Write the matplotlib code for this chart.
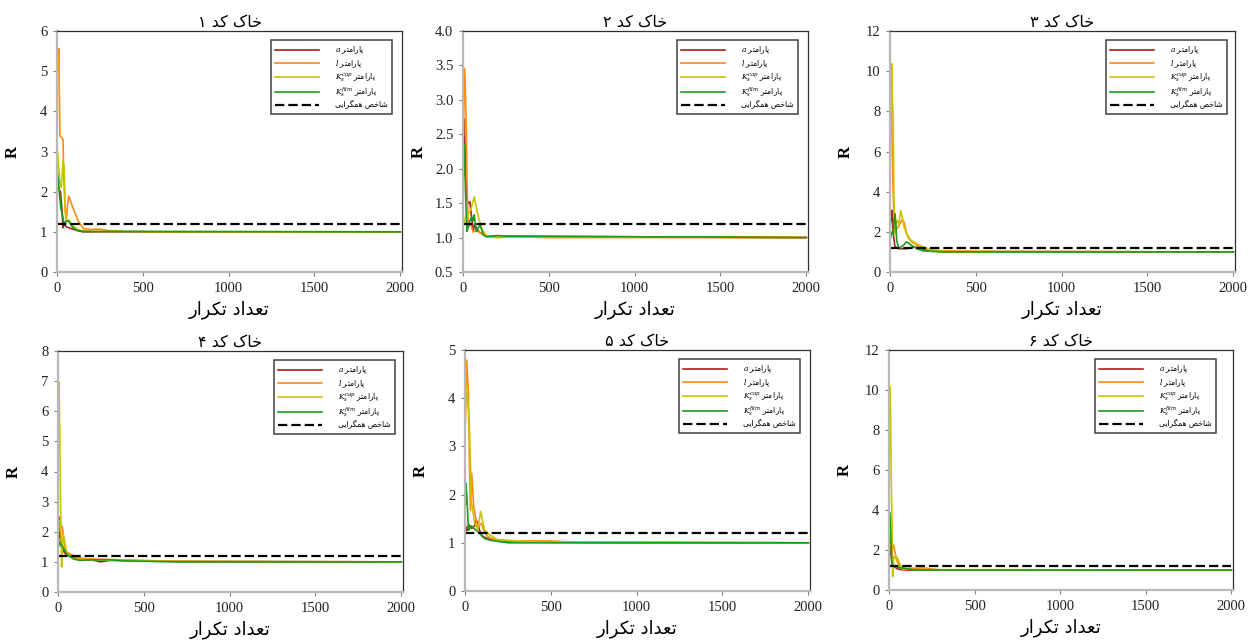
import matplotlib
matplotlib.use("Agg")
import matplotlib.pyplot as plt
from matplotlib.ticker import MultipleLocator, FormatStrFormatter

# iterations / R values (one list per series)
s1_a_x = [5, 12, 20, 30, 35, 42, 55, 70, 90, 120, 150, 250, 2000]
s1_a_y = [2.1, 2.05, 2.0, 1.5, 1.1, 1.2, 1.12, 1.1, 1.07, 1.03, 1.0, 1.0, 1.0]
s1_l_x = [5, 10, 17, 25, 35, 40, 47, 54, 62, 68, 80, 97, 126, 155, 200, 250, 300, 400, 600, 2000]
s1_l_y = [5.0, 5.56, 3.4, 3.35, 3.3, 2.3, 1.6, 1.3, 1.7, 1.89, 1.75, 1.55, 1.25, 1.08, 1.06, 1.07, 1.03, 1.01, 1.0, 1.0]
s1_c_x = [3, 10, 18, 25, 35, 42, 48, 55, 70, 90, 130, 200, 2000]
s1_c_y = [3.0, 2.6, 2.2, 2.1, 2.75, 2.6, 1.5, 1.25, 1.3, 1.15, 1.04, 1.01, 1.0]
s1_f_x = [3, 8, 15, 22, 30, 40, 50, 62, 75, 90, 110, 150, 2000]
s1_f_y = [2.45, 2.3, 1.9, 1.6, 1.45, 1.22, 1.25, 1.28, 1.22, 1.12, 1.05, 1.01, 1.0]

s2_a_x = [5, 8, 14, 20, 30, 40, 50, 60, 70, 80, 100, 140, 250, 2000]
s2_a_y = [2.3, 2.72, 1.99, 1.57, 1.5, 1.52, 1.3, 1.1, 1.2, 1.12, 1.07, 1.02, 1.02, 1.0]
s2_l_x = [3, 8, 12, 15, 20, 25, 31, 45, 60, 80, 100, 140, 200, 300, 500, 2000]
s2_l_y = [2.5, 3.46, 3.3, 3.0, 2.5, 1.6, 1.16, 1.2, 1.08, 1.1, 1.07, 1.02, 1.0, 1.01, 1.0, 1.0]
s2_c_x = [3, 8, 20, 30, 45, 55, 66, 80, 95, 110, 140, 250, 2000]
s2_c_y = [1.3, 1.25, 1.2, 1.35, 1.4, 1.5, 1.59, 1.4, 1.25, 1.12, 1.02, 1.01, 1.0]
s2_f_x = [3, 8, 14, 19, 23, 30, 40, 50, 60, 66, 72, 80, 90, 100, 120, 140, 200, 260, 2000]
s2_f_y = [1.9, 2.35, 1.72, 1.3, 1.09, 1.15, 1.24, 1.3, 1.25, 1.33, 1.15, 1.09, 1.15, 1.18, 1.03, 1.01, 1.03, 1.02, 1.0]

s3_a_x = [3, 6, 10, 19, 29, 58, 97, 136, 175, 214, 300, 2000]
s3_a_y = [2.5, 2.7, 3.07, 1.9, 1.25, 1.16, 1.16, 1.25, 1.2, 1.08, 1.02, 1.0]
s3_l_x = [3, 6, 12, 19, 29, 45, 58, 70, 82, 97, 126, 175, 233, 330, 500, 2000]
s3_l_y = [8.0, 9.4, 6.5, 3.6, 2.07, 2.2, 2.4, 2.6, 2.49, 1.9, 1.5, 1.25, 1.1, 1.05, 1.02, 1.0]
s3_c_x = [3, 10, 14, 19, 23, 29, 39, 52, 62, 72, 82, 107, 155, 195, 253, 400, 2000]
s3_c_y = [7.0, 10.37, 8.5, 7.7, 3.57, 1.9, 2.57, 2.4, 3.07, 2.7, 2.24, 1.66, 1.41, 1.25, 1.05, 1.02, 1.0]
s3_f_x = [3, 6, 12, 19, 24, 29, 34, 39, 52, 65, 78, 97, 126, 155, 195, 300, 2000]
s3_f_y = [1.7, 1.83, 2.0, 1.9, 2.6, 2.9, 2.4, 1.58, 1.16, 1.25, 1.33, 1.5, 1.33, 1.16, 1.05, 1.0, 1.0]

s4_a_x = [3, 6, 14, 29, 49, 88, 126, 200, 250, 300, 600, 2000]
s4_a_y = [1.8, 2.49, 1.71, 1.38, 1.22, 1.16, 1.1, 1.06, 1.0, 1.05, 1.02, 1.0]
s4_l_x = [3, 10, 18, 25, 39, 55, 68, 107, 165, 350, 500, 600, 800, 2000]
s4_l_y = [2.0, 2.38, 2.2, 2.16, 1.49, 1.3, 1.27, 1.16, 1.1, 1.07, 1.05, 1.03, 1.0, 1.0]
s4_c_x = [3, 6, 10, 16, 21, 25, 29, 39, 49, 68, 107, 200, 600, 2000]
s4_c_y = [6.3, 6.97, 5.37, 2.38, 0.83, 1.5, 1.94, 1.71, 1.27, 1.16, 1.1, 1.07, 1.02, 1.0]
s4_f_x = [3, 10, 20, 29, 49, 88, 126, 200, 300, 400, 500, 700, 2000]
s4_f_y = [1.5, 1.66, 1.55, 1.49, 1.27, 1.1, 1.05, 1.07, 1.07, 1.03, 1.02, 1.0, 1.0]

s5_a_x = [3, 8, 15, 24, 40, 55, 66, 74, 90, 104, 142, 210, 250, 500, 2000]
s5_a_y = [1.2, 1.33, 1.26, 1.37, 1.3, 1.35, 1.47, 1.4, 1.2, 1.13, 1.07, 1.05, 1.02, 1.01, 1.0]
s5_l_x = [3, 10, 20, 26, 32, 39, 51, 65, 74, 94, 113, 133, 172, 300, 500, 700, 2000]
s5_l_y = [3.5, 4.79, 4.1, 2.58, 1.68, 2.44, 1.75, 1.47, 1.33, 1.4, 1.23, 1.13, 1.06, 1.04, 1.04, 1.0, 1.0]
s5_c_x = [3, 8, 15, 24, 30, 36, 56, 75, 91, 100, 113, 142, 191, 400, 2000]
s5_c_y = [3.8, 4.3, 3.96, 3.6, 2.9, 1.89, 1.41, 1.27, 1.65, 1.5, 1.27, 1.17, 1.06, 1.02, 1.0]
s5_f_x = [3, 5, 11, 20, 28, 36, 51, 75, 113, 152, 250, 2000]
s5_f_y = [1.8, 2.23, 1.96, 1.26, 1.3, 1.35, 1.3, 1.23, 1.09, 1.05, 1.0, 1.0]

s6_a_x = [2, 4, 11, 19, 44, 60, 100, 2000]
s6_a_y = [2.5, 2.83, 1.83, 1.25, 1.08, 1.03, 1.0, 1.0]
s6_l_x = [2, 6, 15, 25, 35, 44, 64, 83, 112, 210, 250, 300, 2000]
s6_l_y = [2.0, 2.33, 2.3, 2.25, 1.9, 1.5, 1.17, 1.0, 1.08, 1.1, 1.05, 1.0, 1.0]
s6_c_x = [2, 4, 9, 13, 17, 21, 27, 35, 43, 54, 70, 93, 150, 2000]
s6_c_y = [8.0, 10.17, 9.0, 5.5, 3.83, 0.67, 1.67, 1.6, 1.67, 1.5, 1.17, 1.08, 1.02, 1.0]
s6_f_x = [1, 6, 11, 15, 21, 35, 54, 93, 152, 2000]
s6_f_y = [3.92, 3.83, 2.67, 1.5, 1.25, 1.17, 1.13, 1.08, 1.0, 1.0]

threshold = 1.2
titles = ["خاک کد ۱", "خاک کد ۲", "خاک کد ۳", "خاک کد ۴", "خاک کد ۵", "خاک کد ۶"]
ylims = [(0, 6, 1), (0.5, 4.0, 0.5), (0, 12, 2), (0, 8, 1), (0, 5, 1), (0, 12, 2)]
xlabel = "تعداد تکرار"
param_word = "پارامتر"
param_syms = [r"$a$", r"$l$", r"$K_s^{cap}$", r"$K_s^{film}$"]
threshold_label = "شاخص همگرایی"
colors = ["#a8201a", "#ff8a10", "#c8c400", "#1e9a1e"]

# matplotlib has no Arabic shaping, so pick presentation forms by hand
FORMS = {
    "ا": ("\ufe8d", "\ufe8e", None, None),
    "پ": ("\ufb56", "\ufb57", "\ufb58", "\ufb59"),
    "ت": ("\ufe95", "\ufe96", "\ufe97", "\ufe98"),
    "خ": ("\ufea5", "\ufea6", "\ufea7", "\ufea8"),
    "د": ("\ufea9", "\ufeaa", None, None),
    "ر": ("\ufead", "\ufeae", None, None),
    "ش": ("\ufeb5", "\ufeb6", "\ufeb7", "\ufeb8"),
    "ص": ("\ufeb9", "\ufeba", "\ufebb", "\ufebc"),
    "ع": ("\ufec9", "\ufeca", "\ufecb", "\ufecc"),
    "م": ("\ufee1", "\ufee2", "\ufee3", "\ufee4"),
    "ه": ("\ufee9", "\ufeea", "\ufeeb", "\ufeec"),
    "ک": ("\ufb8e", "\ufb8f", "\ufb90", "\ufb91"),
    "گ": ("\ufb92", "\ufb93", "\ufb94", "\ufb95"),
    "ی": ("\ufbfc", "\ufbfd", "\ufbfe", "\ufbff"),
}


def fa(text):
    out = []
    n = len(text)
    for i, ch in enumerate(text):
        if ch not in FORMS:
            out.append(ch)
            continue
        iso, fin, ini, med = FORMS[ch]
        prev_j = i > 0 and text[i - 1] in FORMS and FORMS[text[i - 1]][2] is not None
        next_j = i + 1 < n and text[i + 1] in FORMS and ini is not None
        if prev_j and next_j:
            out.append(med)
        elif prev_j:
            out.append(fin)
        elif next_j:
            out.append(ini)
        else:
            out.append(iso)
    return "".join(out)[::-1]


plt.rcParams["mathtext.fontset"] = "dejavuserif"

W, H = 1248, 642
fig = plt.figure(figsize=(W / 100, H / 100), dpi=100)

# axes boxes in pixels: left, top, right, bottom
boxes = [(57, 31, 402, 272), (463, 31, 808, 272), (890, 31, 1235, 272),
         (58, 351, 403, 592), (465, 350, 810, 591), (889, 350, 1233, 590)]
legend_gap = [10, 10, 8, 8, 10, 17]

panels = [
    [(s1_a_x, s1_a_y), (s1_l_x, s1_l_y), (s1_c_x, s1_c_y), (s1_f_x, s1_f_y)],
    [(s2_a_x, s2_a_y), (s2_l_x, s2_l_y), (s2_c_x, s2_c_y), (s2_f_x, s2_f_y)],
    [(s3_a_x, s3_a_y), (s3_l_x, s3_l_y), (s3_c_x, s3_c_y), (s3_f_x, s3_f_y)],
    [(s4_a_x, s4_a_y), (s4_l_x, s4_l_y), (s4_c_x, s4_c_y), (s4_f_x, s4_f_y)],
    [(s5_a_x, s5_a_y), (s5_l_x, s5_l_y), (s5_c_x, s5_c_y), (s5_f_x, s5_f_y)],
    [(s6_a_x, s6_a_y), (s6_l_x, s6_l_y), (s6_c_x, s6_c_y), (s6_f_x, s6_f_y)],
]

labels = [sym + " " + fa(param_word) for sym in param_syms] + [fa(threshold_label)]

for k, (box, series) in enumerate(zip(boxes, panels)):
    l, t, r, b = box
    ax = fig.add_axes([l / W, 1 - b / H, (r - l) / W, (b - t) / H])
    for (xs, ys), c in zip(series, colors):
        ax.plot(xs, ys, color=c, lw=1.2)
    ax.plot([0, 2000], [threshold, threshold], color="black", lw=1.6,
            dashes=(4.2, 1.8))

    y0, y1, step = ylims[k]
    ax.set_xlim(0, 2010)
    ax.set_ylim(y0, y1)
    ax.xaxis.set_major_locator(MultipleLocator(500))
    ax.yaxis.set_major_locator(MultipleLocator(step))
    if step < 1:
        ax.yaxis.set_major_formatter(FormatStrFormatter("%.1f"))

    for side in ("left", "bottom"):
        ax.spines[side].set_color("#b8b8b8")
        ax.spines[side].set_linewidth(1.6)
    for side in ("top", "right"):
        ax.spines[side].set_color("#303030")
        ax.spines[side].set_linewidth(0.9)
    ax.tick_params(direction="out", length=3, width=0.8, color="#808080",
                   labelcolor="#222222", pad=4)
    for lab in ax.get_xticklabels() + ax.get_yticklabels():
        lab.set_family("Liberation Serif")
        lab.set_fontsize(10.5)

    ax.set_title(fa(titles[k]), family="DejaVu Sans", fontsize=11.5, pad=3)
    ax.set_xlabel(fa(xlabel), family="DejaVu Sans", fontsize=13, labelpad=4)
    ax.set_ylabel("R", family="Liberation Serif", fontweight="bold", fontsize=12)
    ax.yaxis.set_label_coords(-36 / (r - l), 0.5)

    leg = ax.legend(labels, loc="upper right",
                    bbox_to_anchor=(1 - legend_gap[k] / (r - l), 1 - 9 / (b - t)),
                    borderaxespad=0, prop={"family": "DejaVu Sans", "size": 5.5},
                    handlelength=5.8, handletextpad=2.0, labelspacing=0.22,
                    fancybox=False, framealpha=1, borderpad=0.6)
    leg.get_frame().set_edgecolor("#404040")
    leg.get_frame().set_linewidth(1.1)

fig.savefig("out.png", dpi=100)
